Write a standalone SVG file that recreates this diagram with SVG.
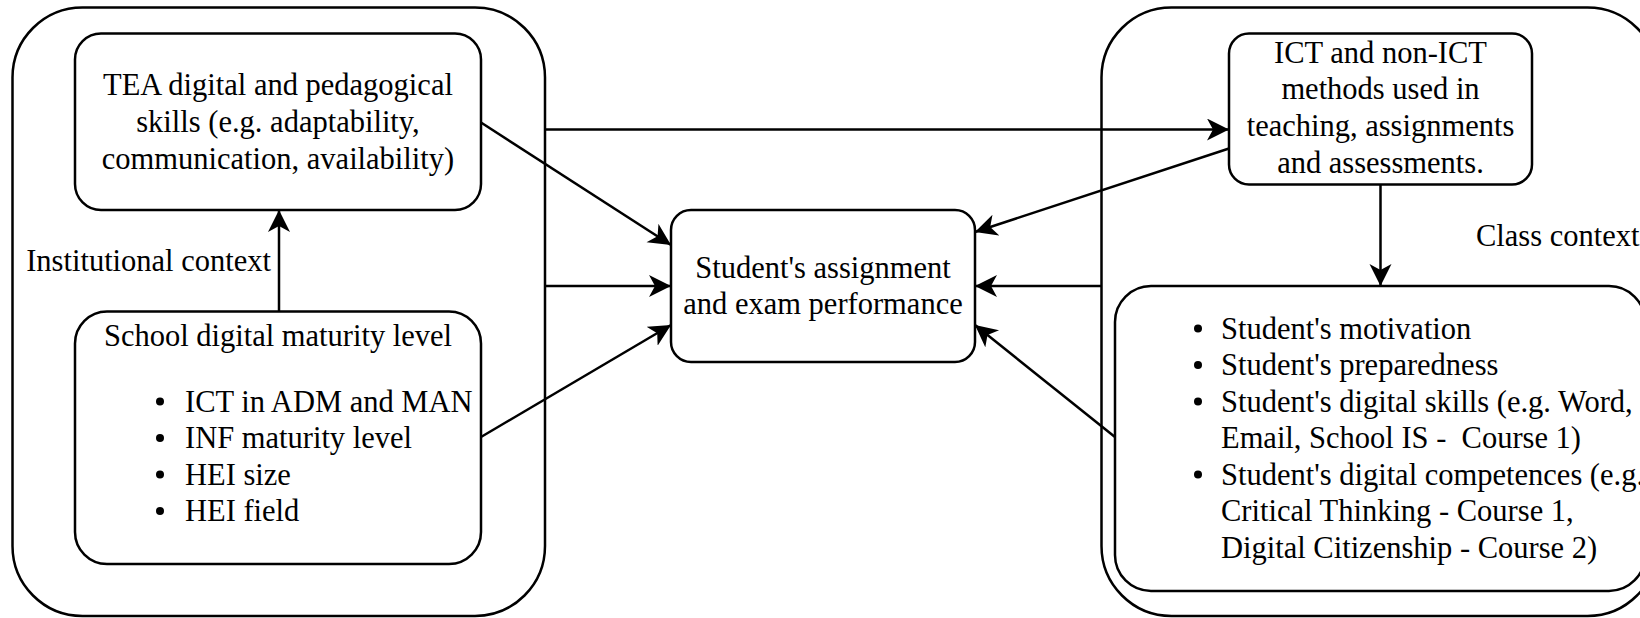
<svg xmlns="http://www.w3.org/2000/svg" width="1640" height="618" viewBox="0 0 1640 618">
  <style>
    .box { fill: #ffffff; stroke: #000000; stroke-width: 2.5; }
    .edge { fill: none; stroke: #000000; stroke-width: 2.5; }
    text { font-family: "Liberation Serif", "Times New Roman", serif; font-size: 30.5px; fill: #000000; }
    .c { text-anchor: middle; }
    .dot { fill: #000000; }
  </style>
  <defs>
    <marker id="arrow" markerUnits="userSpaceOnUse" markerWidth="26" markerHeight="24" refX="22" refY="11" orient="auto">
      <path d="M0,0 L22,11 L0,22 L6,11 Z" fill="#000000"/>
    </marker>
  </defs>

  <g id="institutional-context">
    <rect class="box" x="12.5" y="7.5" width="532.5" height="608.5" rx="70" ry="70"/>
    <text x="271" y="271" text-anchor="end">Institutional context</text>
  </g>

  <g id="class-context">
    <rect class="box" x="1101.5" y="7.5" width="556" height="608.5" rx="70" ry="70"/>
    <text x="1476" y="246">Class context</text>
  </g>

  <g id="connectors">
    <line class="edge" x1="545" y1="129.5" x2="1229" y2="129.5" marker-end="url(#arrow)"/>
    <line class="edge" x1="481" y1="122.5" x2="671" y2="245" marker-end="url(#arrow)"/>
    <line class="edge" x1="545" y1="286" x2="671" y2="286" marker-end="url(#arrow)"/>
    <line class="edge" x1="481" y1="437" x2="671" y2="325" marker-end="url(#arrow)"/>
    <line class="edge" x1="279" y1="311.5" x2="279" y2="210" marker-end="url(#arrow)"/>
    <line class="edge" x1="1229" y1="148.5" x2="975" y2="232" marker-end="url(#arrow)"/>
    <line class="edge" x1="1101.5" y1="286" x2="975" y2="286" marker-end="url(#arrow)"/>
    <line class="edge" x1="1115" y1="437" x2="975" y2="325" marker-end="url(#arrow)"/>
    <line class="edge" x1="1380.5" y1="184.5" x2="1380.5" y2="286" marker-end="url(#arrow)"/>
  </g>

  <g id="tea-skills">
    <rect class="box" x="75" y="33.5" width="406" height="176.5" rx="26" ry="26"/>
    <text class="c" x="278" y="95">TEA digital and pedagogical</text>
    <text class="c" x="278" y="132">skills (e.g. adaptability,</text>
    <text class="c" x="278" y="169">communication, availability)</text>
  </g>

  <g id="school-maturity">
    <rect class="box" x="75" y="311.5" width="406" height="252.5" rx="32" ry="32"/>
    <text class="c" x="278" y="346">School digital maturity level</text>
    <circle class="dot" cx="160" cy="401.5" r="4"/>
    <circle class="dot" cx="160" cy="438" r="4"/>
    <circle class="dot" cx="160" cy="474.5" r="4"/>
    <circle class="dot" cx="160" cy="511" r="4"/>
    <text x="185" y="411.5">ICT in ADM and MAN</text>
    <text x="185" y="448">INF maturity level</text>
    <text x="185" y="484.5">HEI size</text>
    <text x="185" y="521">HEI field</text>
  </g>

  <g id="student-performance">
    <rect class="box" x="671" y="210" width="304" height="152" rx="20" ry="20"/>
    <text class="c" x="823" y="277.5">Student's assignment</text>
    <text class="c" x="823" y="314">and exam performance</text>
  </g>

  <g id="ict-methods">
    <rect class="box" x="1229" y="33.5" width="303" height="151" rx="20" ry="20"/>
    <text class="c" x="1380.5" y="62.5">ICT and non-ICT</text>
    <text class="c" x="1380.5" y="99">methods used in</text>
    <text class="c" x="1380.5" y="136">teaching, assignments</text>
    <text class="c" x="1380.5" y="172.5">and assessments.</text>
  </g>

  <g id="student-factors">
    <rect class="box" x="1115" y="286" width="530" height="305" rx="36" ry="36"/>
    <circle class="dot" cx="1198" cy="328.5" r="4"/>
    <circle class="dot" cx="1198" cy="365" r="4"/>
    <circle class="dot" cx="1198" cy="401.5" r="4"/>
    <circle class="dot" cx="1198" cy="474.5" r="4"/>
    <text x="1221" y="338.5">Student's motivation</text>
    <text x="1221" y="375">Student's preparedness</text>
    <text x="1221" y="411.5">Student's digital skills (e.g. Word,</text>
    <text x="1221" y="448">Email, School IS -&#160; Course 1)</text>
    <text x="1221" y="484.5">Student's digital competences (e.g.</text>
    <text x="1221" y="521">Critical Thinking - Course 1,</text>
    <text x="1221" y="557.5">Digital Citizenship - Course 2)</text>
  </g>
</svg>
